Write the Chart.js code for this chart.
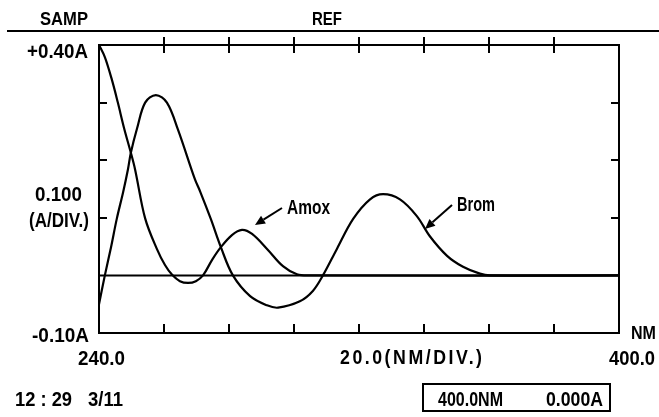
<!DOCTYPE html>
<html>
<head>
<meta charset="utf-8">
<script src="https://cdn.jsdelivr.net/npm/chart.js@4/dist/chart.umd.min.js"></script>
<style>
  html, body { margin: 0; padding: 0; background: #fff; }
  #wrap { width: 659px; height: 417px; }
</style>
</head>
<body>
<div id="wrap"><canvas id="spec" width="659" height="417"></canvas></div>
<script>
/* ── spectrum data (nm, absorbance) ── */
const amoxNm  = [240.0, 241.8, 244.0, 245.8, 247.7, 249.8, 251.1, 254.2, 257.8, 260.3, 262.5, 264.9, 267.4, 269.8, 272.0, 274.8, 277.5, 280.9, 284.0, 287.1, 291.7, 296.6, 300.9, 304.9, 400.0];
const amoxAbs = [0.400, 0.379, 0.339, 0.300, 0.256, 0.213, 0.184, 0.099, 0.046, 0.018, 0.001, -0.010, -0.013, -0.010, 0.000, 0.027, 0.049, 0.070, 0.079, 0.072, 0.046, 0.016, 0.002, 0.000, 0.000];

const bromNm  = [240.0, 241.8, 243.7, 245.5, 247.4, 248.9, 249.8, 251.7, 254.2, 257.5, 260.9, 264.3, 269.5, 271.1, 274.4, 277.5, 281.2, 286.5, 291.7, 295.1, 301.8, 305.8, 308.9, 313.2, 318.2, 323.4, 327.4, 332.6, 337.8, 341.8, 347.1, 352.0, 357.2, 360.3, 400.0];
const bromAbs = [-0.050, 0.000, 0.049, 0.099, 0.144, 0.184, 0.213, 0.255, 0.300, 0.313, 0.300, 0.253, 0.167, 0.146, 0.098, 0.049, 0.000, -0.036, -0.052, -0.056, -0.045, -0.027, 0.000, 0.046, 0.098, 0.132, 0.141, 0.132, 0.103, 0.068, 0.034, 0.015, 0.003, 0.000, 0.000];

const baseNm  = [240, 400];
const baseAbs = [0, 0];

const nmTicks  = [260, 280, 300, 320, 340, 360, 380];
const absTicks = [0.1, 0.2, 0.3];

const toPts = (xs, ys) => xs.map((v, i) => ({ x: v, y: ys[i] }));

const FONT = '"Liberation Sans", Arial, sans-serif';

// draw text squeezed between left and right edge, vertically centred on caps
function fitText(ctx, s, left, right, cy, size, spacing) {
  ctx.save();
  ctx.font = 'bold ' + size + 'px ' + FONT;
  ctx.letterSpacing = (spacing || 0) + 'px';
  ctx.textAlign = 'left';
  ctx.textBaseline = 'alphabetic';
  const w = ctx.measureText(s).width - (spacing || 0);
  ctx.translate(left, cy + size * 0.358);
  ctx.scale((right - left) / w, 1);
  ctx.fillText(s, 0, 0);
  ctx.restore();
}

function arrow(ctx, x0, y0, x1, y1) {
  const ang = Math.atan2(y1 - y0, x1 - x0);
  const len = 10, half = 4.5;
  const bx = x1 - len * Math.cos(ang), by = y1 - len * Math.sin(ang);
  ctx.beginPath();
  ctx.moveTo(x0, y0);
  ctx.lineTo(bx, by);
  ctx.stroke();
  ctx.beginPath();
  ctx.moveTo(x1, y1);
  ctx.lineTo(bx + half * Math.sin(ang), by - half * Math.cos(ang));
  ctx.lineTo(bx - half * Math.sin(ang), by + half * Math.cos(ang));
  ctx.closePath();
  ctx.fill();
}

const frame = {
  id: 'frame',
  beforeDatasetsDraw(chart) {
    const { ctx, chartArea: a, scales: { x, y } } = chart;
    ctx.save();
    ctx.strokeStyle = '#000';
    ctx.lineWidth = 2;
    ctx.strokeRect(a.left, a.top, a.right - a.left, a.bottom - a.top);
    ctx.beginPath();
    nmTicks.forEach(v => {
      const px = Math.round(x.getPixelForValue(v));
      ctx.moveTo(px, a.top - 8);  ctx.lineTo(px, a.top + 8);
      ctx.moveTo(px, a.bottom);   ctx.lineTo(px, a.bottom - 9);
    });
    absTicks.forEach(v => {
      const py = Math.round(y.getPixelForValue(v));
      ctx.moveTo(a.left, py);  ctx.lineTo(a.left + 8, py);
      ctx.moveTo(a.right, py); ctx.lineTo(a.right - 8, py);
    });
    // header rule
    ctx.moveTo(7, 31); ctx.lineTo(659, 31);
    ctx.stroke();
    // readout box
    ctx.strokeRect(423, 384, 187, 27);
    ctx.restore();
  },
  afterDraw(chart) {
    const ctx = chart.ctx;
    ctx.save();
    ctx.fillStyle = '#000';
    ctx.strokeStyle = '#000';
    ctx.lineWidth = 2;
    fitText(ctx, 'SAMP', 40, 88, 18, 19);
    fitText(ctx, 'REF', 312, 342, 18, 19);
    fitText(ctx, '+0.40A', 27, 88, 50, 21);
    fitText(ctx, '0.100', 35, 82, 193, 21);
    fitText(ctx, '(A/DIV.)', 29, 89, 220, 20);
    fitText(ctx, '-0.10A', 32, 89, 334, 21);
    fitText(ctx, 'NM', 631, 656, 332, 19);
    fitText(ctx, '240.0', 78, 125, 357, 21);
    fitText(ctx, '20.0(NM/DIV.)', 340, 482, 356, 21, 3);
    fitText(ctx, '400.0', 609, 655, 357, 21);
    fitText(ctx, '12 : 29', 15, 72, 398, 21);
    fitText(ctx, '3/11', 88, 123, 398, 21);
    fitText(ctx, '400.0NM', 438, 503, 398, 21);
    fitText(ctx, '0.000A', 546, 603, 398, 21);
    fitText(ctx, 'Amox', 287, 330, 207, 20);
    fitText(ctx, 'Brom', 457, 495, 204, 20);
    arrow(ctx, 282, 208, 255, 225);
    arrow(ctx, 452, 205, 425, 229);
    ctx.restore();
  }
};

const lineStyle = {
  borderColor: '#000',
  borderWidth: 2.2,
  pointRadius: 0,
  fill: false,
  tension: 0.35,
};

new Chart(document.getElementById('spec'), {
  type: 'line',
  data: {
    datasets: [
      { label: 'Amox', data: toPts(amoxNm, amoxAbs), ...lineStyle },
      { label: 'Brom', data: toPts(bromNm, bromAbs), ...lineStyle },
      { label: 'base', data: toPts(baseNm, baseAbs), ...lineStyle, borderWidth: 2, tension: 0 },
    ],
  },
  options: {
    responsive: false,
    animation: false,
    layout: { padding: { left: 99, right: 40, top: 45, bottom: 84 } },
    plugins: { legend: { display: false }, tooltip: { enabled: false } },
    scales: {
      x: { type: 'linear', min: 240, max: 400, display: false },
      y: { type: 'linear', min: -0.1, max: 0.4, display: false },
    },
  },
  plugins: [frame],
});
</script>
</body>
</html>
